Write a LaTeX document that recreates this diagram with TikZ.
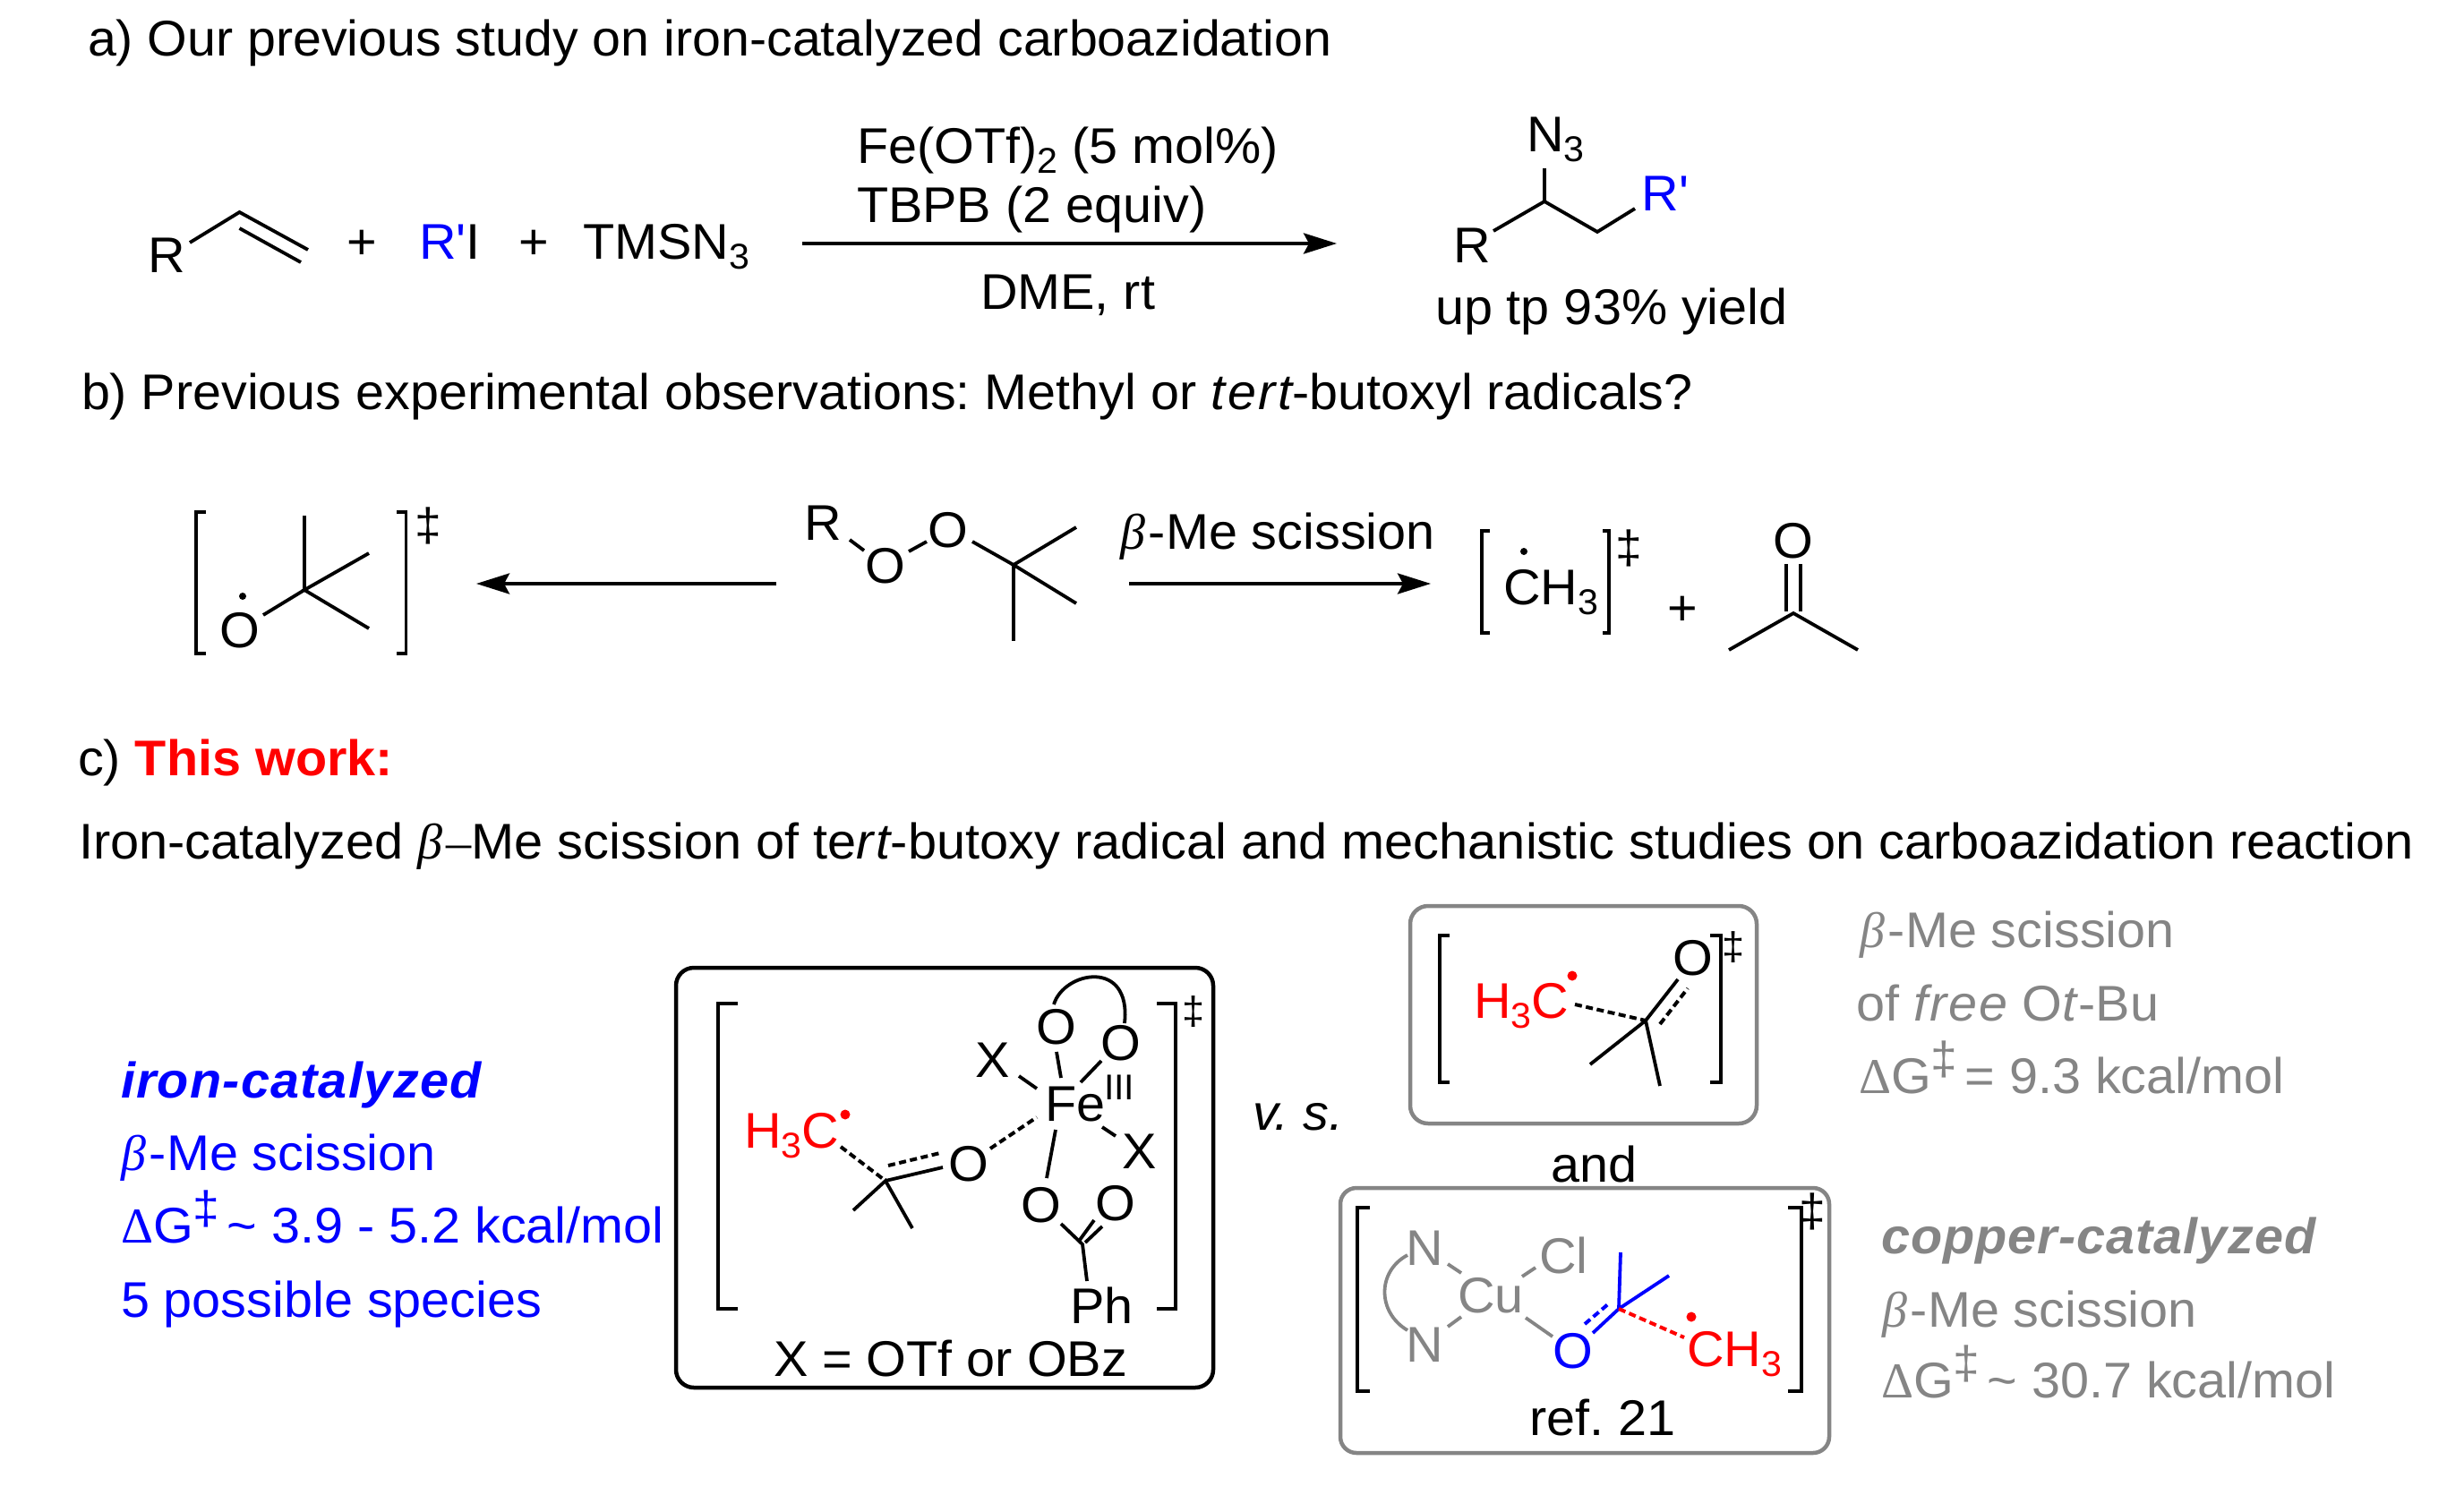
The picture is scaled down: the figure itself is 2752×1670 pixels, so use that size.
\documentclass[tikz,border=0pt]{standalone}
\usepackage{fontspec}
\setmainfont[FakeStretch=1.028]{Liberation Sans}
\newfontfamily\symf{Liberation Serif}
\usetikzlibrary{arrows.meta}
\definecolor{chemgray}{HTML}{858585}
\definecolor{chemblue}{HTML}{0000FF}
\definecolor{chemred}{HTML}{FF0000}
\newcommand{\sbt}[1]{\raisebox{-11pt}{\fontsize{40}{40}\selectfont #1}}
\newcommand{\ddg}{\raisebox{21pt}{\fontsize{52}{52}\selectfont ‡}\kern-8pt}
\newcommand{\bet}{{\symf\itshape β}\kern4pt}
\newcommand{\dlt}{{\symf Δ}}
\newcommand{\spit}[2]{{\itshape\addfontfeature{LetterSpace=#1}#2}}
\tikzset{
  lbl/.style={anchor=base west,inner sep=0pt,outer sep=0pt,xshift=-3pt,font=\fontsize{56}{60}\selectfont},
  cen/.style={anchor=base,inner sep=0pt,outer sep=0pt,font=\fontsize{56}{60}\selectfont},
  dgr/.style={anchor=center,inner sep=0pt,outer sep=0pt,font=\fontsize{52}{52}\selectfont},
  dgs/.style={anchor=center,inner sep=0pt,outer sep=0pt,font=\fontsize{44}{44}\selectfont},
  bond/.style={line width=3.8pt,line cap=butt,line join=miter},
  dbond/.style={line width=4pt,dash pattern=on 8pt off 4.5pt},
  brk/.style={line width=3.8pt,line join=miter},
  rarrow/.style={line width=4pt,-{Stealth[length=37pt,width=23pt,inset=6pt]}},
  panel/.style={line width=4.5pt,rounded corners=20pt}
}
\begin{document}
\frenchspacing
\begin{tikzpicture}[x=1pt,y=-1pt]
\useasboundingbox (0,0) rectangle (2752,1670);
% --- a ---
\node[lbl] (ta) at (101,63) {\scalebox{0.996}[1]{a) Our previous study on iron-catalyzed carboazidation}};
\node[lbl] (r1) at (168,304) {R};
\draw[bond] (212,271) -- (267.5,237) -- (344,279);
\draw[bond] (267.5,255) -- (336,293);
\node[lbl] (p1) at (390,289) {+};
\node[lbl] (rpi) at (471,289) {{\color{chemblue}R\textquotesingle}I};
\node[lbl] (p2) at (582,289) {+};
\node[lbl] (tms) at (654,289) {TMSN\sbt{3}};
\coordinate (a1s) at (896,272);
\coordinate (a1e) at (1493,272);
\draw[rarrow] (a1s) -- (a1e);
\node[lbl] (fe1) at (960,182) {Fe(OTf)\sbt{2} (5 mol\%)};
\node[lbl] (tb) at (960,248) {TBPB (2 equiv)};
\node[lbl] (dme) at (1098,345) {DME, rt};
\node[lbl] (n3) at (1708,169) {N\sbt{3}};
\draw[bond] (1725,188) -- (1725,225);
\draw[bond] (1668,258) -- (1725,225) -- (1784,259) -- (1826,233);
\node[lbl] (r2) at (1626,293) {R};
\node[lbl,text=chemblue] (r3) at (1836.5,235) {R\textquotesingle};
\node[lbl] (yld) at (1606,362) {up tp 93\% yield};
% --- b ---
\node[lbl] (tb2) at (94,457) {\scalebox{0.998}[1]{b) Previous experimental observations: Methyl or \spit{5}{tert}-butoxyl radicals?}};
\draw[brk] (230,572) -- (219,572) -- (219,730) -- (230,730);
\draw[brk] (443,572) -- (453.5,572) -- (453.5,730) -- (443,730);
\node[dgr] (d1) at (478,587) {‡};
\draw[bond] (340,576) -- (340,659);
\draw[bond] (412,618) -- (340,659) -- (412,702);
\draw[bond] (340,659) -- (294,687);
\node[cen] (o1) at (268,723) {O};
\fill (271,666) circle (4pt);
\coordinate (a2s) at (867,652);
\coordinate (a2e) at (532,652);
\draw[rarrow] (a2s) -- (a2e);
\node[lbl] (r4) at (901,603) {R};
\draw[bond] (949,603) -- (965,615);
\node[cen] (o2) at (989,651) {O};
\draw[bond] (1015,616) -- (1035,605);
\node[cen] (o3) at (1059,611) {O};
\draw[bond] (1086,605) -- (1132,631);
\draw[bond] (1202,589) -- (1132,631) -- (1202,674);
\draw[bond] (1132,631) -- (1132,716);
\node[lbl] (bme) at (1254,613) {\bet-Me scission};
\coordinate (a3s) at (1261,652);
\coordinate (a3e) at (1598,652);
\draw[rarrow] (a3s) -- (a3e);
\draw[brk] (1664,593) -- (1655,593) -- (1655,707) -- (1664,707);
\draw[brk] (1790,593) -- (1797,593) -- (1797,707) -- (1790,707);
\node[dgr] (d2) at (1819,612) {‡};
\node[lbl] (ch3) at (1682,675) {CH\sbt{3}};
\fill (1702,616) circle (4pt);
\node[lbl] (p3) at (1865,698) {+};
\draw[bond] (1931,726) -- (2003,685) -- (2075,726);
\draw[bond] (1995,630) -- (1995,683);
\draw[bond] (2011,630) -- (2011,683);
\node[cen] (o4) at (2003,623) {O};
% --- c ---
\node[lbl] (tc) at (90,866) {c) {\bfseries\color{chemred}This work:}};
\node[lbl] (tc2) at (91,959) {\scalebox{1.003}[1]{Iron-catalyzed \bet{\symf –}Me scission of te\spit{5}{rt}-butoxy radical and mechanistic studies on carboazidation reaction}};
% left blue
\node[lbl,text=chemblue] (l1) at (138,1226) {\bfseries\itshape\addfontfeature{LetterSpace=2.2}iron-catalyzed};
\node[lbl,text=chemblue] (l2) at (138,1307) {\bet-Me scission};
\node[lbl,text=chemblue] (l3) at (138,1388) {\dlt G\ddg{} \textasciitilde{} 3.9 - 5.2 kcal/mol};
\node[lbl,text=chemblue] (l4) at (138,1471) {5 possible species};
% Fe box
\draw[panel] (755,1081) rectangle (1355,1550);
\draw[brk] (824,1121) -- (802,1121) -- (802,1462) -- (824,1462);
\draw[brk] (1292,1121) -- (1313,1121) -- (1313,1462) -- (1292,1462);
\node[dgs] (d3) at (1333,1130) {‡};
\node[lbl,text=chemred] (h3c1) at (834,1282) {H\sbt{3}C};
\fill[chemred] (944,1245) circle (5.5pt);
\draw[dbond] (939,1281) -- (989,1319);
\draw[bond] (953,1352) -- (989,1319) -- (1019,1372);
\draw[bond] (989,1319) -- (1053,1304);
\draw[dbond] (992,1302) -- (1050,1288);
\node[cen] (o5) at (1082,1319) {O};
\draw[dbond] (1106,1283) -- (1158,1248);
\node[lbl] (fe) at (1170,1252) {Fe};
\node[lbl,font=\fontsize{40}{40}\selectfont] (fe3) at (1236,1228) {III};
\node[cen] (o6) at (1180,1166) {O};
\node[cen] (o7) at (1252,1184) {O};
\draw[bond] (1180,1175) -- (1185,1204);
\draw[bond] (1230,1185) -- (1207,1209);
\node[cen] (x1) at (1109,1203) {X};
\draw[bond] (1138,1202) -- (1158,1216);
\node[cen] (x2) at (1273,1305) {X};
\draw[bond] (1231,1259) -- (1246,1269);
\draw[bond] (1179,1262) -- (1169,1316);
\node[cen] (o8) at (1163,1365) {O};
\node[cen] (o9) at (1246,1363) {O};
\draw[bond] (1185,1367) -- (1209,1390) -- (1214,1431);
\draw[bond] (1206,1385) -- (1222,1363);
\draw[bond] (1212,1388) -- (1231,1370);
\node[lbl] (ph) at (1198,1478) {Ph};
\draw[bond] (1177,1122) .. controls (1188,1085) and (1264,1070) .. (1256,1143);
\node[lbl] (xeq) at (867,1537) {X = OTf or OBz};
% v.s.
\node[lbl,font=\fontsize{56}{60}\selectfont\itshape] (vs) at (1402,1262) {v. s.};
% small box
\draw[panel,draw=chemgray] (1575,1012) rectangle (1962,1255);
\draw[brk] (1619,1045) -- (1608,1045) -- (1608,1209) -- (1619,1209);
\draw[brk] (1910,1045) -- (1922,1045) -- (1922,1209) -- (1910,1209);
\node[dgs] (d4) at (1936,1058) {‡};
\node[lbl,text=chemred] (h3c2) at (1649,1137) {H\sbt{3}C};
\fill[chemred] (1756,1090) circle (5.5pt);
\draw[dbond] (1759,1122) -- (1838,1140);
\draw[bond] (1776,1189) -- (1838,1140) -- (1854,1213);
\draw[bond] (1838,1140) -- (1874,1094);
\draw[dbond] (1854,1144) -- (1885,1104);
\node[cen] (o10) at (1891,1089) {O};
\node[lbl] (and) at (1735,1320) {and};
% gray right
\node[lbl,text=chemgray] (g1) at (2080,1058) {\bet-Me scission};
\node[lbl,text=chemgray] (g2) at (2076,1140) {of \spit{4}{free} O\textit{t}-Bu};
\node[lbl,text=chemgray] (g3) at (2079,1221) {\dlt G\ddg{} = 9.3 kcal/mol};
\node[lbl,text=chemgray] (g4) at (2104,1400) {\bfseries\itshape\addfontfeature{LetterSpace=1.8}copper-catalyzed};
\node[lbl,text=chemgray] (g5) at (2105,1482) {\bet-Me scission};
\node[lbl,text=chemgray] (g6) at (2104,1561) {\dlt G\ddg{} \textasciitilde{} 30.7 kcal/mol};
% Cu box
\draw[panel,draw=chemgray,rounded corners=18pt] (1497,1327) rectangle (2043,1623);
\draw[brk] (1530,1349) -- (1516,1349) -- (1516,1554) -- (1530,1554);
\draw[brk] (1997,1349) -- (2012,1349) -- (2012,1554) -- (1997,1554);
\node[dgr] (d5) at (2024,1353) {‡};
\node[lbl,text=chemgray] (n1) at (1573,1413) {N};
\node[lbl,text=chemgray] (n2) at (1573,1521) {N};
\draw[bond,chemgray] (1572,1402) .. controls (1538,1420) and (1538,1466) .. (1572,1486);
\draw[bond,chemgray] (1617,1412) -- (1632,1422);
\draw[bond,chemgray] (1617,1482) -- (1632,1471);
\node[lbl,text=chemgray] (cu) at (1631,1466) {Cu};
\node[lbl,text=chemgray] (cl) at (1722,1422) {Cl};
\draw[bond,chemgray] (1700,1426) -- (1715,1416);
\draw[bond,chemgray] (1704,1472) -- (1734,1493);
\node[cen,text=chemblue] (o11) at (1757,1528) {O};
\draw[bond,chemblue] (1810,1399) -- (1808,1462) -- (1864,1425);
\draw[bond,chemblue] (1808,1462) -- (1779,1489);
\draw[dbond,chemblue] (1770,1479) -- (1797,1456);
\draw[dbond,chemred] (1808,1462) -- (1881,1494);
\fill[chemred] (1889,1471) circle (5.5pt);
\node[lbl,text=chemred] (ch3b) at (1887,1526) {CH\sbt{3}};
\node[lbl] (ref) at (1711,1603) {ref. 21};
\end{tikzpicture}
\end{document}
